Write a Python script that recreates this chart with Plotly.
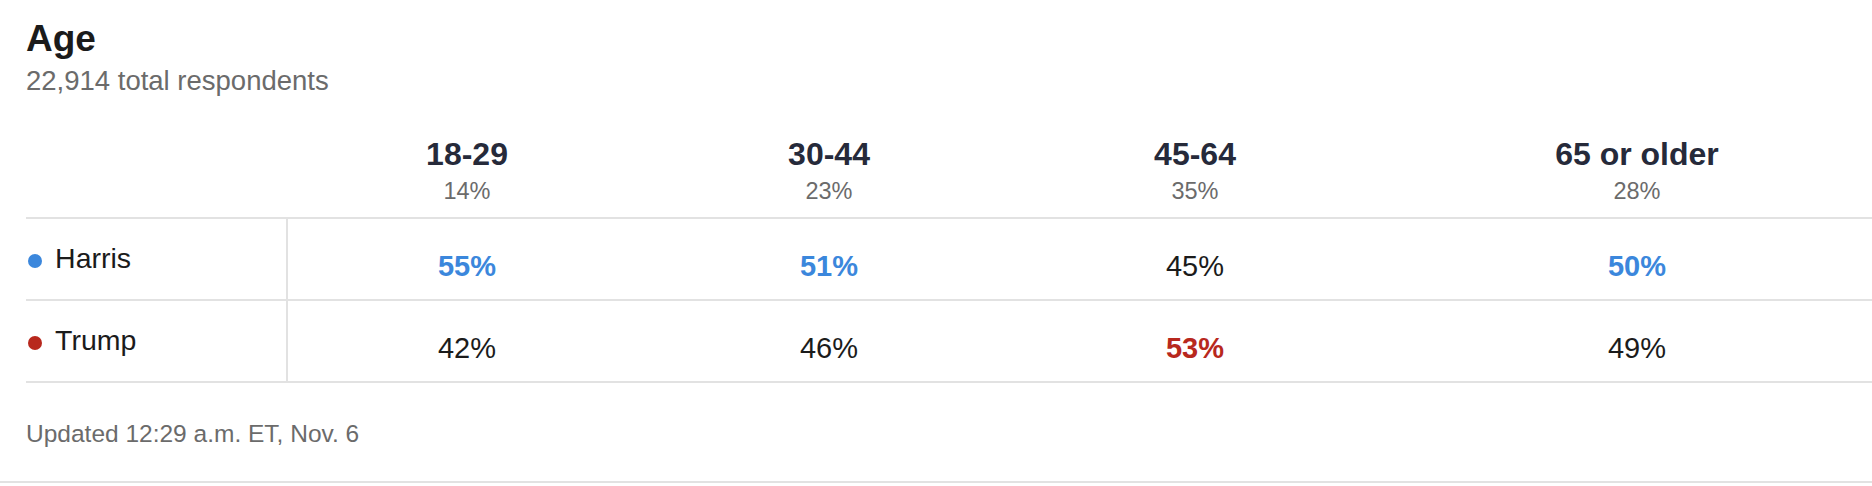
import plotly.graph_objects as go

groups = ["18-29", "30-44", "45-64", "65 or older"]
group_share = ["14%", "23%", "35%", "28%"]
candidates = ["Harris", "Trump"]
harris = [55, 51, 45, 50]
trump = [42, 46, 53, 49]

TITLE = "Age"
SUBTITLE = "22,914 total respondents"
FOOTER = "Updated 12:29 a.m. ET, Nov. 6"

W, H = 1872, 486
FONT = "Liberation Sans"
BLUE = "#3b87dc"
RED = "#b8281d"
INK = "#1b1b1b"
NAVY = "#262a3a"
GREY = "#6b6b6b"
RULE = "#e2e2e2"

# layout (pixel positions on a 0..W / 0..H axis)
col_x = [467, 829, 1195, 1637]
header_y, share_y = 157, 193
row_label_y = [261, 343]
row_value_y = [269, 351]
rules_y = [218, 300, 382]
divider_x = 287

cand_colors = {"Harris": BLUE, "Trump": RED}
values = {"Harris": harris, "Trump": trump}

fig = go.Figure()

fig.add_trace(go.Scatter(
    x=col_x, y=[header_y] * len(groups), text=groups, mode="text",
    textfont=dict(family=FONT, size=32, color=NAVY, weight="bold"),
    hoverinfo="skip", showlegend=False))
fig.add_trace(go.Scatter(
    x=col_x, y=[share_y] * len(groups), text=group_share, mode="text",
    textfont=dict(family=FONT, size=23.5, color=GREY),
    hoverinfo="skip", showlegend=False))

for i, name in enumerate(candidates):
    other = values[candidates[1 - i]]
    mine = values[name]
    won = [a > b for a, b in zip(mine, other)]
    # row label with coloured dot
    fig.add_trace(go.Scatter(
        x=[35], y=[row_label_y[i]], mode="markers+text", text=[" \u200a" + name],
        textposition="middle right",
        marker=dict(size=14, color=cand_colors[name]),
        textfont=dict(family=FONT, size=28.5, color=INK),
        hoverinfo="skip", showlegend=False))
    fig.add_trace(go.Scatter(
        x=col_x, y=[row_value_y[i]] * len(mine),
        text=[f"{v}%" for v in mine], mode="text",
        textfont=dict(family=FONT, size=29,
                      color=[cand_colors[name] if w else INK for w in won],
                      weight=["bold" if w else "normal" for w in won]),
        hoverinfo="skip", showlegend=False))

shapes = []
for y in rules_y:
    shapes.append(dict(type="line", x0=26, x1=W, y0=y, y1=y,
                       line=dict(color=RULE, width=2)))
shapes.append(dict(type="line", x0=divider_x, x1=divider_x, y0=rules_y[0], y1=rules_y[-1],
                   line=dict(color=RULE, width=2)))
shapes.append(dict(type="line", x0=0, x1=W, y0=482, y1=482,
                   line=dict(color=RULE, width=2)))

annotations = [
    dict(text=f"<b>{TITLE}</b>", x=24, y=38, xanchor="left", yanchor="middle",
         showarrow=False, font=dict(family=FONT, size=37, color=INK)),
    dict(text=SUBTITLE, x=24, y=80, xanchor="left", yanchor="middle",
         showarrow=False, font=dict(family=FONT, size=27.5, color=GREY)),
    dict(text=FOOTER, x=24, y=433, xanchor="left", yanchor="middle",
         showarrow=False, font=dict(family=FONT, size=24.5, color=GREY)),
]

fig.update_layout(
    width=W, height=H, margin=dict(l=0, r=0, t=0, b=0),
    paper_bgcolor="white", plot_bgcolor="white",
    xaxis=dict(range=[0, W], visible=False, fixedrange=True),
    yaxis=dict(range=[H, 0], visible=False, fixedrange=True),
    shapes=shapes, annotations=annotations,
)

fig.write_html("out.html", config={"displayModeBar": False},
               post_script="document.body.style.margin='0';document.body.style.overflow='hidden';")
